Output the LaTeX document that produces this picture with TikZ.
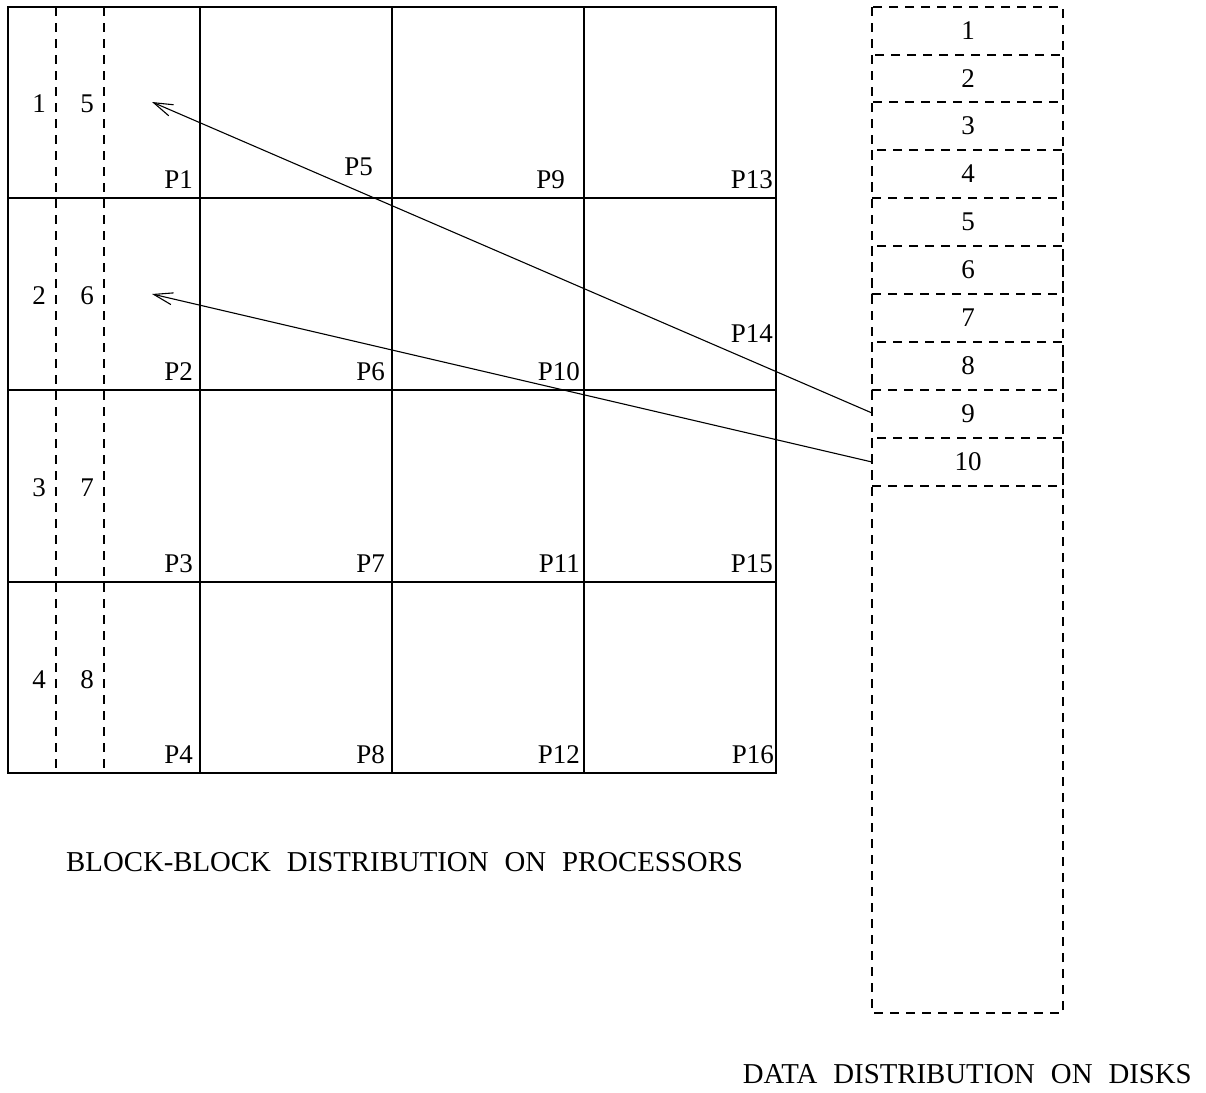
\documentclass[tikz,border=0pt]{standalone}
\usepackage{fontspec}
\setmainfont{Liberation Serif}
\usetikzlibrary{arrows.meta}
\newcommand{\wgap}{\hspace{16pt}}
\begin{document}
\begin{tikzpicture}[x=1pt,y=-1pt,
  solidline/.style={line width=1.2pt},
  dashline/.style={line width=1.2pt,dash pattern=on 9pt off 7pt},
  lbl/.style={inner sep=0pt,font=\fontsize{27}{30}\selectfont},
  plbl/.style={lbl,anchor=base east},
  ttl/.style={inner sep=0pt,font=\fontsize{28.8}{32}\selectfont},
  arr/.style={line width=1.1pt,-{Straight Barb[length=19pt,width=12pt,line width=1.1pt]}}]
\useasboundingbox (0,0) rectangle (1206,1092);
% grid
\draw[solidline] (8,7) rectangle (776,773);
\foreach \x in {200,392,584} \draw[solidline] (\x,7) -- (\x,773);
\foreach \y in {198,390,582} \draw[solidline] (8,\y) -- (776,\y);
\foreach \x in {56,104} \draw[dashline] (\x,7) -- (\x,773);
% row numbers
\node[lbl] (n1) at (39,104) {1};
\node[lbl] (n5) at (87,104) {5};
\node[lbl] (n2) at (39,296) {2};
\node[lbl] (n6) at (87,296) {6};
\node[lbl] (n3) at (39,488) {3};
\node[lbl] (n7) at (87,488) {7};
\node[lbl] (n4) at (39,680) {4};
\node[lbl] (n8) at (87,680) {8};
% processor labels
\node[plbl] (p1) at (193,188) {P1};
\node[plbl] (p2) at (193,380) {P2};
\node[plbl] (p3) at (193,572) {P3};
\node[plbl] (p4) at (193,763) {P4};
\node[plbl] (p5) at (373,175) {P5};
\node[plbl] (p6) at (385,380) {P6};
\node[plbl] (p7) at (385,572) {P7};
\node[plbl] (p8) at (385,763) {P8};
\node[plbl] (p9) at (565,188) {P9};
\node[plbl] (p10) at (580,380) {P10};
\node[plbl] (p11) at (580,572) {P11};
\node[plbl] (p12) at (580,763) {P12};
\node[plbl] (p13) at (773,188) {P13};
\node[plbl] (p14) at (773,342) {P14};
\node[plbl] (p15) at (773,572) {P15};
\node[plbl] (p16) at (774,763) {P16};
% disk column
\draw[dashline] (872,7) rectangle (1063,1013);
\foreach \a/\b in {55/102,150/198,246/294,342/390,438/486}
  \draw[dashline] (872,\a) rectangle (1063,\b);
\node[lbl] (d1) at (968,31) {1};
\node[lbl] (d2) at (968,79) {2};
\node[lbl] (d3) at (968,126) {3};
\node[lbl] (d4) at (968,174) {4};
\node[lbl] (d5) at (968,222) {5};
\node[lbl] (d6) at (968,270) {6};
\node[lbl] (d7) at (968,318) {7};
\node[lbl] (d8) at (968,366) {8};
\node[lbl] (d9) at (968,414) {9};
\node[lbl] (d10) at (968,462) {10};
% arrows
\coordinate (s9) at (872,413);
\coordinate (s10) at (872,462);
\coordinate (t5) at (152,102);
\coordinate (t6) at (152,294);
\draw[arr] (s9) -- (t5);
\draw[arr] (s10) -- (t6);
% titles
\node[ttl,anchor=base west] (title1) at (66,871) {BLOCK-BLOCK\wgap DISTRIBUTION\wgap ON\wgap PROCESSORS};
\node[ttl,anchor=base east] (title2) at (1192,1083) {DATA\wgap DISTRIBUTION\wgap ON\wgap DISKS};
\end{tikzpicture}
\end{document}
